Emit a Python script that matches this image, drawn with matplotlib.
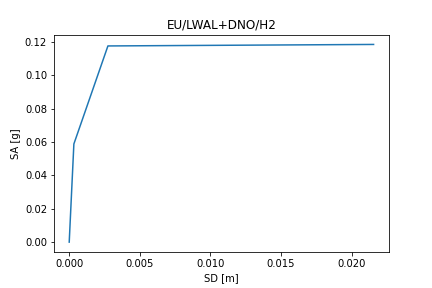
import matplotlib
matplotlib.use("Agg")
import matplotlib.pyplot as plt

sd = [0.0, 0.00033, 0.00274, 0.02155]
sa = [0.0, 0.0589, 0.1177, 0.1186]

fig, ax = plt.subplots(figsize=(6, 4), dpi=72)
fig.subplots_adjust(bottom=0.125)
ax.plot(sd, sa)
ax.set_title("EU/LWAL+DNO/H2")
ax.set_xlabel("SD [m]")
ax.set_ylabel("SA [g]")
fig.savefig("out.png", dpi=72)
